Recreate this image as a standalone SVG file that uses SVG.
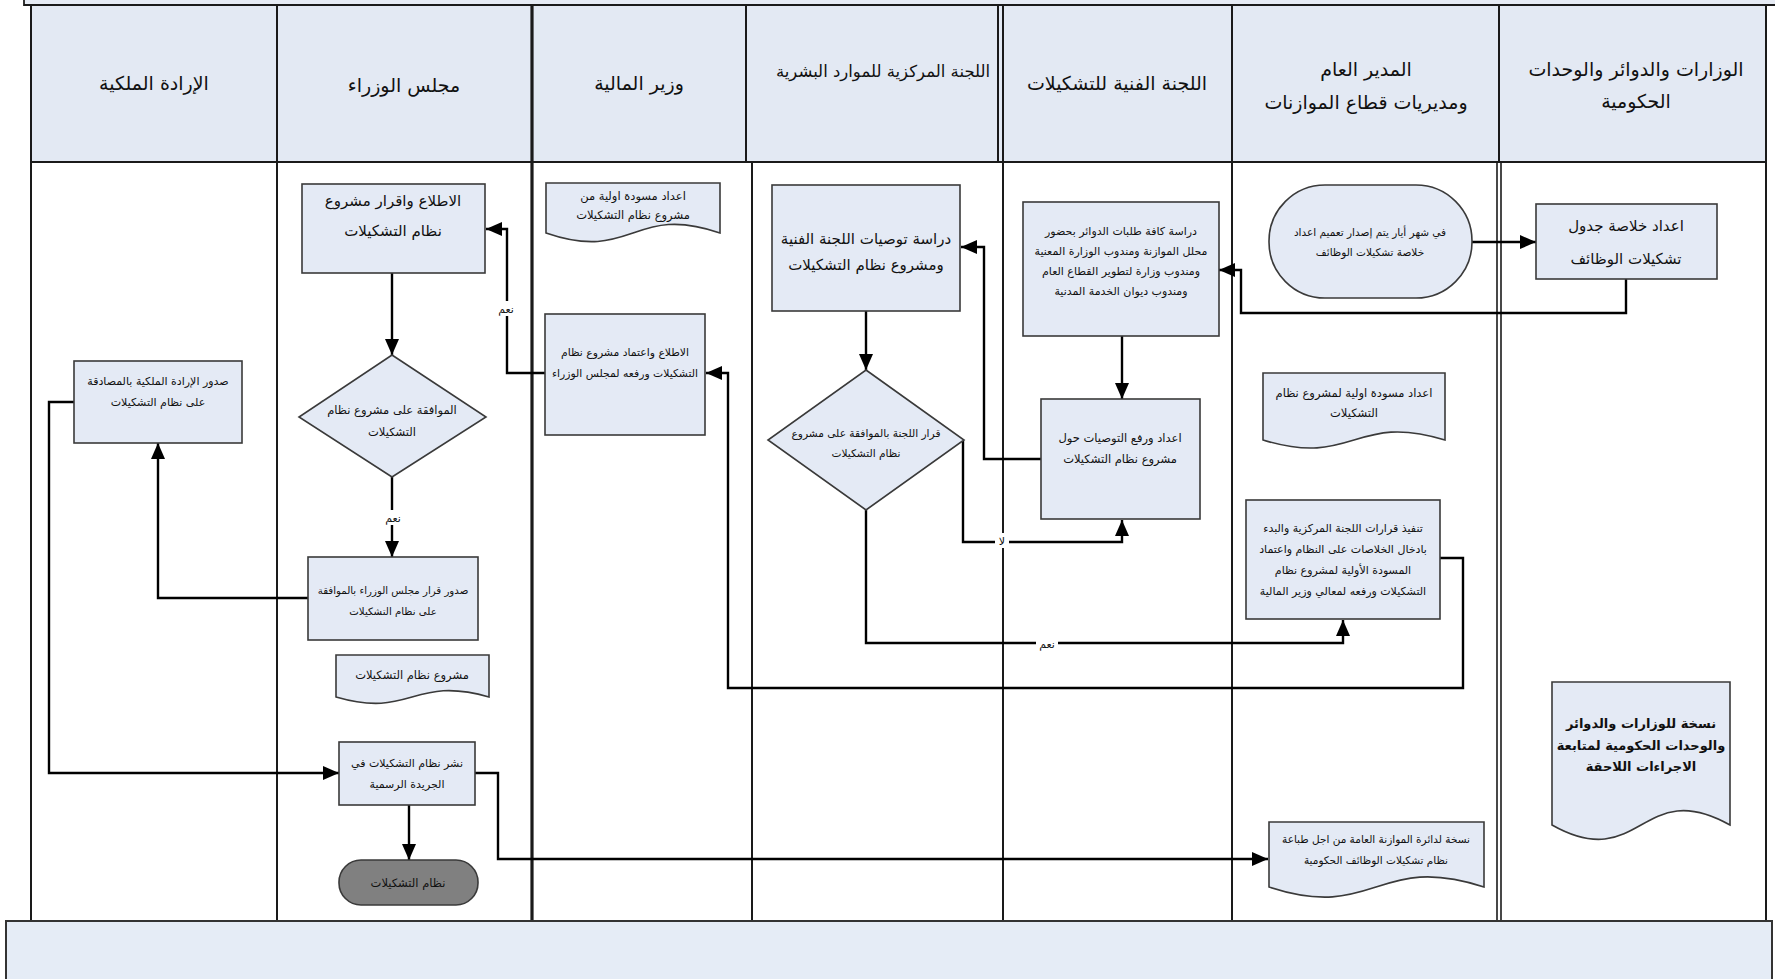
<svg xmlns="http://www.w3.org/2000/svg" width="1775" height="979" viewBox="0 0 1775 979">
  <style>
    .lane { stroke: #1a1a1a; stroke-width: 2; fill: none; }
    .hdr { font-family: "DejaVu Sans", sans-serif; font-size: 19px; fill: #111; text-anchor: middle; }
    .node { fill: #e4eaf5; stroke: #3a3a3a; stroke-width: 1.6; }
    .term { fill: #808080; stroke: #3a3a3a; stroke-width: 1.6; }
    .t { font-family: "DejaVu Sans", sans-serif; font-size: 11.5px; fill: #111; text-anchor: middle; }
    .tl { font-family: "DejaVu Sans", sans-serif; font-size: 15px; fill: #111; text-anchor: middle; }
    .conn { stroke: #000; stroke-width: 2.4; fill: none; }
    .lbl { font-family: "DejaVu Sans", sans-serif; font-size: 11px; fill: #111; text-anchor: middle; }
  </style>
  <defs>
    <marker id="arrow" markerUnits="userSpaceOnUse" markerWidth="17" markerHeight="14" refX="16" refY="7" orient="auto">
      <path d="M0,0 L16,7 L0,14 Z" fill="#000"/>
    </marker>
  </defs>

  <!-- page background -->
  <rect x="0" y="0" width="1775" height="979" fill="#ffffff"/>

  <!-- swimlane frame -->
  <g id="frame">
    <rect x="24" y="-6" width="1760" height="11" fill="#e6ebf4" stroke="#333" stroke-width="2"/>
    <rect x="31" y="5" width="1735" height="157" fill="#e3e9f3"/>
    <line class="lane" x1="24" y1="5" x2="1775" y2="5"/>
    <line class="lane" x1="31" y1="162" x2="1766" y2="162"/>
    <line class="lane" x1="31" y1="5" x2="31" y2="921"/>
    <line class="lane" x1="277" y1="5" x2="277" y2="921"/>
    <line class="lane" x1="532" y1="5" x2="532" y2="921" style="stroke-width:3.2"/>
    <line class="lane" x1="746" y1="5" x2="746" y2="162"/>
    <line class="lane" x1="752" y1="162" x2="752" y2="921"/>
    <line class="lane" x1="998" y1="5" x2="998" y2="162"/>
    <line class="lane" x1="1003" y1="5" x2="1003" y2="921"/>
    <line class="lane" x1="1232" y1="5" x2="1232" y2="921"/>
    <line class="lane" x1="1499" y1="5" x2="1499" y2="162"/>
    <line class="lane" x1="1497" y1="162" x2="1497" y2="921" style="stroke-width:1.6"/>
    <line class="lane" x1="1501" y1="162" x2="1501" y2="921" style="stroke-width:1.6"/>
    <line class="lane" x1="1766" y1="5" x2="1766" y2="921"/>
    <rect x="6" y="921" width="1766" height="70" fill="#e5ecf6" stroke="#333" stroke-width="2"/>
  </g>

  <!-- lane headings -->
  <g id="headers">
    <text class="hdr" x="154" y="90">الإرادة الملكية</text>
    <text class="hdr" x="404" y="92">مجلس الوزراء</text>
    <text class="hdr" x="639" y="90">وزير المالية</text>
    <text class="hdr" x="883" y="77" style="font-size:16.5px">اللجنة المركزية للموارد البشرية</text>
    <text class="hdr" x="1117" y="90">اللجنة الفنية للتشكيلات</text>
    <text class="hdr" x="1366" y="76">المدير العام</text>
    <text class="hdr" x="1366" y="109">ومديريات قطاع الموازنات</text>
    <text class="hdr" x="1636" y="76">الوزارات   والدوائر والوحدات</text>
    <text class="hdr" x="1636" y="108">الحكومية</text>
  </g>

  <!-- connectors -->
  <g id="connectors">
    <path class="conn" d="M392,273 V355" marker-end="url(#arrow)"/>
    <path class="conn" d="M392,477 V557" marker-end="url(#arrow)"/>
    <path class="conn" d="M308,598 H158 V443" marker-end="url(#arrow)"/>
    <path class="conn" d="M74,402 H49 V773 H339" marker-end="url(#arrow)"/>
    <path class="conn" d="M409,805 V860" marker-end="url(#arrow)"/>
    <path class="conn" d="M475,773 H498 V859 H1268" marker-end="url(#arrow)"/>
    <path class="conn" d="M545,373 H507 V229 H486" marker-end="url(#arrow)"/>
    <path class="conn" d="M1440,558 H1463 V688 H728 V373 H706" marker-end="url(#arrow)"/>
    <path class="conn" d="M866,311 V370" marker-end="url(#arrow)"/>
    <path class="conn" d="M963,440 V542 H1122 V520" marker-end="url(#arrow)"/>
    <path class="conn" d="M866,510 V643 H1343 V620" marker-end="url(#arrow)"/>
    <path class="conn" d="M1122,336 V399" marker-end="url(#arrow)"/>
    <path class="conn" d="M1041,459 H984 V247 H961" marker-end="url(#arrow)"/>
    <path class="conn" d="M1472,242 H1536" marker-end="url(#arrow)"/>
    <path class="conn" d="M1626,279 V313 H1241 V270 H1219" marker-end="url(#arrow)"/>
    <!-- branch labels -->
    <rect x="383" y="510" width="20" height="15" fill="#fff"/>
    <text class="lbl" x="393" y="522">نعم</text>
    <rect x="497" y="301" width="18" height="15" fill="#fff"/>
    <text class="lbl" x="506" y="313">نعم</text>
    <rect x="995" y="533" width="14" height="15" fill="#fff"/>
    <text class="lbl" x="1002" y="545">لا</text>
    <rect x="1036" y="636" width="22" height="15" fill="#fff"/>
    <text class="lbl" x="1047" y="648">نعم</text>
  </g>

  <!-- Royal Decree lane -->
  <g id="royal-decree">
    <rect class="node" x="74" y="361" width="168" height="82"/>
    <text class="t" x="158" y="385" style="font-size:11px">صدور الإرادة الملكية بالمصادقة</text>
    <text class="t" x="158" y="406" style="font-size:11px">على نظام التشكيلات</text>
  </g>

  <!-- Council of Ministers lane -->
  <g id="council-review">
    <rect class="node" x="302" y="184" width="183" height="89"/>
    <text class="tl" x="393" y="206">الاطلاع واقرار  مشروع</text>
    <text class="tl" x="393" y="236">نظام التشكيلات</text>
  </g>
  <g id="council-decision">
    <path class="node" d="M392,355 L486,417 L392,477 L299,417 Z"/>
    <text class="t" x="392" y="414">الموافقة على مشروع نظام</text>
    <text class="t" x="392" y="436">التشكيلات</text>
  </g>
  <g id="council-approval">
    <rect class="node" x="308" y="557" width="170" height="83"/>
    <text class="t" x="393" y="594" style="font-size:10.2px">صدور قرار مجلس الوزراء بالموافقة</text>
    <text class="t" x="393" y="615" style="font-size:10.2px">على نظام التشكيلات</text>
  </g>
  <g id="council-draft-doc">
    <path class="node" d="M336,655 H489 V697 C412,675 412,719 336,697 Z"/>
    <text class="t" x="412" y="679">مشروع نظام التشكيلات</text>
  </g>
  <g id="gazette">
    <rect class="node" x="339" y="742" width="136" height="63"/>
    <text class="t" x="407" y="767" style="font-size:11px">نشر نظام التشكيلات في</text>
    <text class="t" x="407" y="788" style="font-size:11px">الجريدة الرسمية</text>
  </g>
  <g id="end">
    <rect class="term" x="339" y="860" width="139" height="45" rx="22" ry="22"/>
    <text class="t" x="408" y="887">نظام التشكيلات</text>
  </g>

  <!-- Minister of Finance lane -->
  <g id="finance-draft-doc">
    <path class="node" d="M546,183 H720 V233 C633,203 633,263 546,233 Z"/>
    <text class="t" x="633" y="200">اعداد مسودة اولية من</text>
    <text class="t" x="633" y="219">مشروع نظام التشكيلات</text>
  </g>
  <g id="finance-approval">
    <rect class="node" x="545" y="314" width="160" height="121"/>
    <text class="t" x="625" y="356" style="font-size:10.8px">الاطلاع واعتماد  مشروع نظام</text>
    <text class="t" x="625" y="377" style="font-size:10.8px">التشكيلات ورفعه لمجلس الوزراء</text>
  </g>

  <!-- Central HR Committee lane -->
  <g id="hr-study">
    <rect class="node" x="772" y="185" width="188" height="126"/>
    <text class="tl" x="866" y="244">دراسة  توصيات اللجنة الفنية</text>
    <text class="tl" x="866" y="270">ومشروع نظام التشكيلات</text>
  </g>
  <g id="hr-decision">
    <path class="node" d="M866,370 L964,440 L866,510 L768,440 Z"/>
    <text class="t" x="866" y="437" style="font-size:10.6px">قرار اللجنة بالموافقة على مشروع</text>
    <text class="t" x="866" y="457" style="font-size:10.6px">نظام التشكيلات</text>
  </g>

  <!-- Technical Committee lane -->
  <g id="tech-study">
    <rect class="node" x="1023" y="202" width="196" height="134"/>
    <text class="t" x="1121" y="235" style="font-size:11px">دراسة كافة طلبات الدوائر بحضور</text>
    <text class="t" x="1121" y="255" style="font-size:11px">محلل الموازنة ومندوب الوزارة المعنية</text>
    <text class="t" x="1121" y="275" style="font-size:11px">ومندوب وزارة لتطوير القطاع العام</text>
    <text class="t" x="1121" y="295" style="font-size:11px">ومندوب ديوان الخدمة المدنية</text>
  </g>
  <g id="tech-recommend">
    <rect class="node" x="1041" y="399" width="159" height="120"/>
    <text class="t" x="1120" y="442">اعداد ورفع التوصيات حول</text>
    <text class="t" x="1120" y="463">مشروع نظام التشكيلات</text>
  </g>

  <!-- General Budget Department lane -->
  <g id="start">
    <rect class="node" x="1269" y="185" width="203" height="113" rx="56" ry="56"/>
    <text class="t" x="1370" y="236" style="font-size:10.5px">في شهر أيار يتم إصدار تعميم اعداد</text>
    <text class="t" x="1370" y="256" style="font-size:10.5px">خلاصة تشكيلات الوظائف</text>
  </g>
  <g id="budget-draft-doc">
    <path class="node" d="M1263,373 H1445 V440 C1354,412 1354,468 1263,440 Z"/>
    <text class="t" x="1354" y="397">اعداد مسودة اولية  لمشروع نظام</text>
    <text class="t" x="1354" y="417">التشكيلات</text>
  </g>
  <g id="budget-execute">
    <rect class="node" x="1246" y="500" width="194" height="119"/>
    <text class="t" x="1343" y="532" style="font-size:11px">تنفيذ قرارات اللجنة المركزية والبدء</text>
    <text class="t" x="1343" y="553" style="font-size:11px">بادخال الخلاصات على النظام واعتماد</text>
    <text class="t" x="1343" y="574" style="font-size:11px">المسودة الأولية لمشروع نظام</text>
    <text class="t" x="1343" y="595" style="font-size:11px">التشكيلات ورفعه لمعالي وزير المالية</text>
  </g>
  <g id="budget-copy-doc">
    <path class="node" d="M1269,822 H1484 V887 C1376,852 1376,922 1269,887 Z"/>
    <text class="t" x="1376" y="843" style="font-size:10.5px">نسخة لدائرة الموازنة العامة من اجل طباعة</text>
    <text class="t" x="1376" y="864" style="font-size:10.5px">نظام تشكيلات الوظائف الحكومية</text>
  </g>

  <!-- Ministries lane -->
  <g id="ministries-summary">
    <rect class="node" x="1536" y="204" width="181" height="75"/>
    <text class="tl" x="1626" y="231">اعداد خلاصة جدول</text>
    <text class="tl" x="1626" y="264">تشكيلات الوظائف</text>
  </g>
  <g id="ministries-copy-doc">
    <path class="node" d="M1552,682 H1730 V825 C1641,775 1641,875 1552,825 Z"/>
    <text class="t" x="1641" y="728" style="font-size:13px;font-weight:bold">نسخة للوزارات والدوائر</text>
    <text class="t" x="1641" y="750" style="font-size:13px;font-weight:bold">والوحدات الحكومية  لمتابعة</text>
    <text class="t" x="1641" y="771" style="font-size:13px;font-weight:bold">الاجراءات اللاحقة</text>
  </g>
</svg>
